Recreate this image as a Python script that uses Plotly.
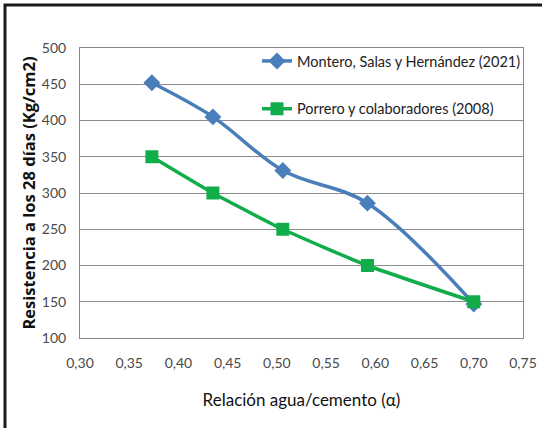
import plotly.graph_objects as go

# Water/cement ratio vs 28-day compressive strength
ratio = [0.373, 0.435, 0.506, 0.592, 0.70]
montero = [452, 405, 331, 286, 147]
porrero = [350, 300, 250, 200, 150]

series_names = ["Montero, Salas y Hernández (2021)", "Porrero y colaboradores (2008)"]
x_ticks = [0.30, 0.35, 0.40, 0.45, 0.50, 0.55, 0.60, 0.65, 0.70, 0.75]
y_ticks = [100, 150, 200, 250, 300, 350, 400, 450, 500]

FONT = "Lato, Roboto, sans-serif"

fig = go.Figure()
fig.add_trace(go.Scatter(
    x=ratio, y=montero, name=series_names[0], legendgroup="a",
    mode="lines+markers", line=dict(color="#4A7EBB", width=3.5, shape="spline", smoothing=1.0),
    marker=dict(symbol="diamond", size=13, color="#4A7EBB"),
))
fig.add_trace(go.Scatter(
    x=ratio, y=porrero, name=series_names[1], legendgroup="b",
    mode="lines+markers", line=dict(color="#12AD4B", width=3.5, shape="spline", smoothing=0.5),
    marker=dict(symbol="square", size=13, color="#12AD4B"),
))

W, H = 542, 428
ml, mr, mt, mb = 80, 19, 48, 90
pw, ph = W - ml - mr, H - mt - mb

def px_x(p):
    return (p - ml) / pw

def px_y(p):
    return 1 - (p - mt) / ph

fig.update_layout(
    width=W, height=H,
    margin=dict(l=ml, r=mr, t=mt, b=mb, autoexpand=False),
    paper_bgcolor="white", plot_bgcolor="white",
    font=dict(family=FONT, size=14, color="#444444"),
    showlegend=True,
    legend=dict(
        x=px_x(257), y=px_y(45), xanchor="left", yanchor="top",
        bgcolor="rgba(0,0,0,0)", borderwidth=0,
        font=dict(family=FONT, size=14.5, color="#222222"),
        tracegroupgap=26, itemwidth=30,
    ),
    xaxis=dict(
        range=[0.30, 0.75], tickvals=x_ticks,
        ticktext=[f"{v:.2f}".replace(".", ",") for v in x_ticks],
        showgrid=False, zeroline=False,
        showline=True, linecolor="#868686", linewidth=1, mirror=True,
        ticks="", ticklen=0, ticklabelstandoff=12,
        tickfont=dict(family=FONT, size=14, color="#4A4A4A"),
        title=dict(text="Relación agua/cemento (α)", standoff=24,
                   font=dict(family=FONT, size=17, color="#111111")),
    ),
    yaxis=dict(
        range=[100, 500], tickvals=y_ticks,
        showgrid=True, gridcolor="#8C8C8C", gridwidth=1, zeroline=False,
        showline=True, linecolor="#868686", linewidth=1, mirror=True,
        ticks="", ticklen=0, ticklabelstandoff=10,
        tickfont=dict(family=FONT, size=14, color="#4A4A4A"),
        title=dict(text="<b>Resistencia a los 28 días (Kg/cm2)</b>", standoff=2,
                   font=dict(family="Open Sans, sans-serif", size=16.5, color="#111111")),
    ),
    shapes=[dict(
        type="rect", xref="paper", yref="paper", layer="above",
        x0=px_x(5), x1=px_x(W + 20), y0=px_y(H + 20), y1=px_y(5),
        line=dict(color="#1A1A1A", width=3),
    )],
)

fig.write_html("out.html")
